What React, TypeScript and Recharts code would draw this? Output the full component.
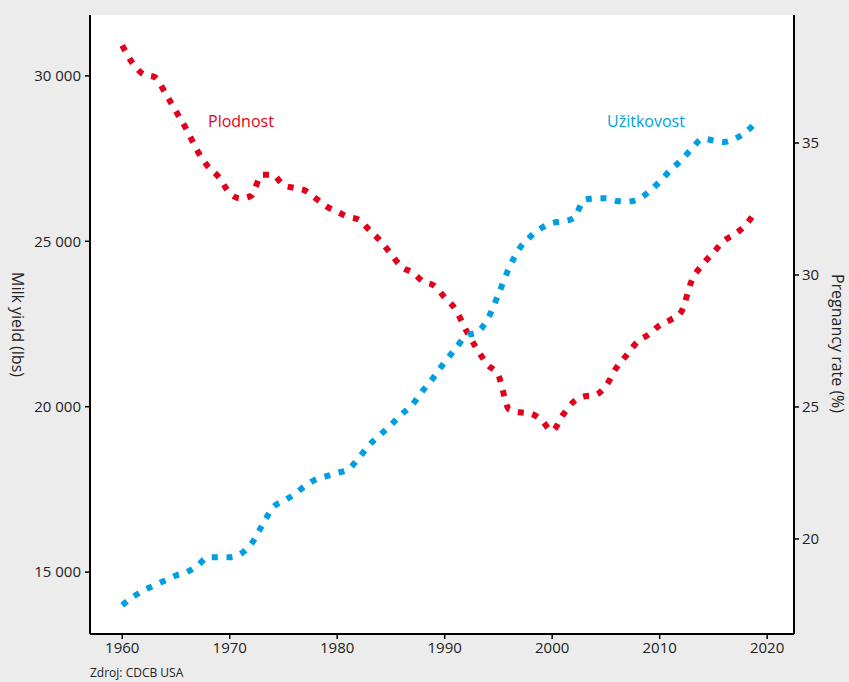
import { LineChart, Line, XAxis, YAxis, CartesianGrid } from 'recharts'

const years = [
  1960, 1961, 1962, 1963, 1964, 1965, 1966, 1967, 1968, 1969,
  1970, 1971, 1972, 1973, 1974, 1975, 1976, 1977, 1978, 1979,
  1980, 1981, 1982, 1983, 1984, 1985, 1986, 1987, 1988, 1989,
  1990, 1991, 1992, 1993, 1994, 1995, 1996, 1997, 1998, 1999,
  2000, 2001, 2002, 2003, 2004, 2005, 2006, 2007, 2008, 2009,
  2010, 2011, 2012, 2013, 2014, 2015, 2016, 2017, 2018, 2019,
]

// Užitkovost – milk yield (lbs), left axis
const milkYield = [
  14000, 14250, 14450, 14600, 14750, 14900, 15000, 15200, 15450, 15450,
  15450, 15550, 15850, 16400, 16950, 17150, 17350, 17600, 17800, 17900,
  18000, 18100, 18450, 18850, 19150, 19450, 19770, 20070, 20500, 20900,
  21350, 21750, 22150, 22250, 22650, 23400, 24200, 24800, 25150, 25400,
  25550, 25600, 25700, 26250, 26300, 26300, 26220, 26200, 26270, 26500,
  26800, 27150, 27450, 27800, 28100, 28050, 28000, 28100, 28300, 28600,
]

// Plodnost – pregnancy rate (%), right axis
const pregnancyRate = [
  38.7, 38.0, 37.6, 37.5, 36.9, 36.2, 35.5, 34.7, 34.1, 33.7,
  33.1, 32.9, 33.0, 33.8, 33.8, 33.4, 33.3, 33.2, 32.9, 32.6,
  32.4, 32.2, 32.1, 31.7, 31.3, 30.8, 30.3, 30.1, 29.75, 29.6,
  29.15, 28.7, 27.9, 27.2, 26.6, 26.2, 24.9, 24.8, 24.75, 24.5,
  24.1, 24.7, 25.2, 25.4, 25.45, 25.8, 26.5, 27.0, 27.5, 27.75,
  28.1, 28.3, 28.6, 29.8, 30.4, 30.85, 31.3, 31.55, 31.9, 32.45,
]

const xTicks = [1960, 1970, 1980, 1990, 2000, 2010, 2020]
const leftTicks = [15000, 20000, 25000, 30000]
const rightTicks = [20, 25, 30, 35]

const data = years.map((year, i) => ({
  year,
  milk: milkYield[i],
  rate: pregnancyRate[i],
}))

const RED = '#e2001a'
const BLUE = '#009fe3'
const FONT = '"Open Sans", "Noto Sans", sans-serif'

const fmtThousands = (v: number) => String(v).replace(/\B(?=(\d{3})+(?!\d))/g, ' ')

const tickStyle = { fill: '#222', fontSize: 15, fontFamily: FONT }
const axisLine = { stroke: '#000', strokeWidth: 2 }
const tickLine = { stroke: '#000', strokeWidth: 1.5 }

export default function App() {
  return (
    <div
      style={{
        position: 'absolute',
        left: 0,
        top: 0,
        width: 849,
        height: 682,
        background: '#ececec',
        overflow: 'hidden',
        fontFamily: FONT,
      }}
    >
      <LineChart width={849} height={682} data={data} margin={{ top: 15, right: 0, bottom: 0, left: 0 }}>
        <CartesianGrid fill="#fff" stroke="none" horizontal={false} vertical={false} />
        <XAxis
          dataKey="year"
          type="number"
          domain={[1957, 2022.5]}
          ticks={xTicks}
          allowDataOverflow
          height={48}
          tick={tickStyle}
          tickSize={5}
          tickMargin={3}
          axisLine={axisLine}
          tickLine={tickLine}
        />
        <YAxis
          yAxisId="left"
          orientation="left"
          width={90}
          domain={[13130, 31840]}
          ticks={leftTicks}
          allowDataOverflow
          tickFormatter={fmtThousands}
          tick={tickStyle}
          tickSize={5}
          tickMargin={4}
          axisLine={axisLine}
          tickLine={tickLine}
          label={{
            value: 'Milk yield (lbs)',
            angle: 90,
            position: 'center',
            dx: -27,
            fill: '#222',
            fontSize: 16,
            fontFamily: FONT,
          }}
        />
        <YAxis
          yAxisId="right"
          orientation="right"
          width={55}
          domain={[16.4, 39.85]}
          ticks={rightTicks}
          allowDataOverflow
          tick={tickStyle}
          tickSize={5}
          tickMargin={3}
          axisLine={axisLine}
          tickLine={tickLine}
          label={{
            value: 'Pregnancy rate (%)',
            angle: 90,
            position: 'center',
            dx: 16,
            dy: 19,
            fill: '#222',
            fontSize: 16,
            fontFamily: FONT,
          }}
        />
        <Line
          yAxisId="right"
          type="monotone"
          dataKey="rate"
          stroke={RED}
          strokeWidth={6}
          strokeDasharray="6 8.7"
          dot={false}
          activeDot={false}
          isAnimationActive={false}
        />
        <Line
          yAxisId="left"
          type="monotone"
          dataKey="milk"
          stroke={BLUE}
          strokeWidth={6}
          strokeDasharray="6 8.7"
          dot={false}
          activeDot={false}
          isAnimationActive={false}
        />
      </LineChart>
      <div style={{ position: 'absolute', left: 208, top: 110, color: RED, fontSize: 16, lineHeight: '22px' }}>
        Plodnost
      </div>
      <div style={{ position: 'absolute', left: 607, top: 110, color: BLUE, fontSize: 16, lineHeight: '22px' }}>
        Užitkovost
      </div>
      <div style={{ position: 'absolute', left: 90, top: 665, color: '#222', fontSize: 12, lineHeight: '15px' }}>
        Zdroj: CDCB USA
      </div>
    </div>
  )
}
